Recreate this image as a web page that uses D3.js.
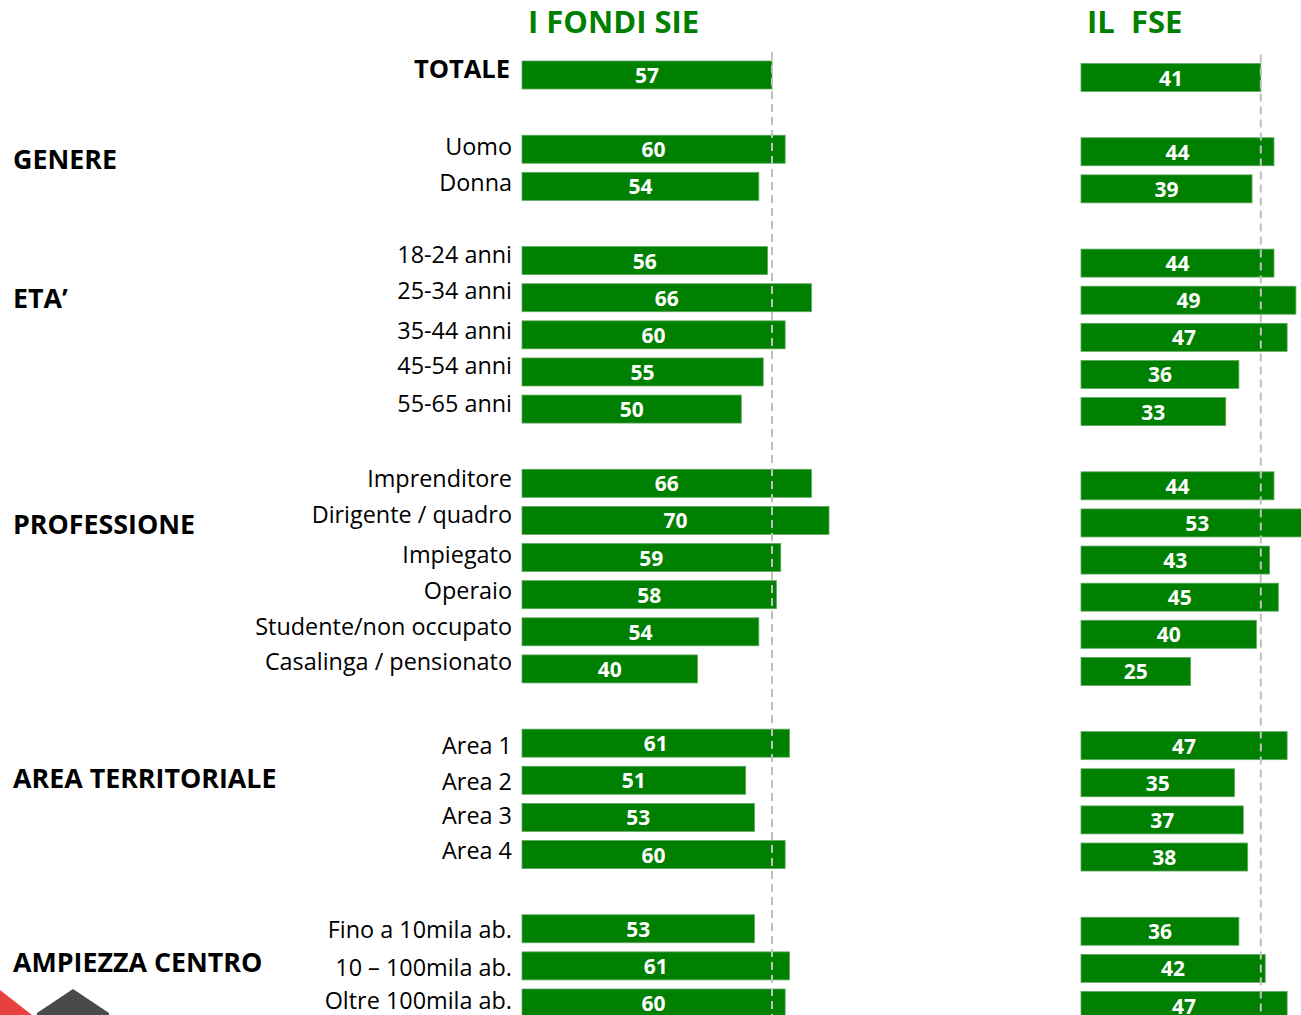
<!DOCTYPE html>
<html>
<head>
<meta charset="utf-8">
<script src="https://cdn.jsdelivr.net/npm/d3@7"></script>
<style>
  html, body { margin: 0; padding: 0; background: #ffffff; }
  svg { display: block; }
  text { white-space: pre; }
</style>
</head>
<body>
<svg id="chart" width="1301" height="1015"></svg>
<script>
// ---------------- DATA ----------------
const panelTitles = ["I FONDI SIE", "IL  FSE"];
const groups = ["", "GENERE", "ETA’", "PROFESSIONE", "AREA TERRITORIALE", "AMPIEZZA CENTRO"];
const categories = [
  "TOTALE",
  "Uomo", "Donna",
  "18-24 anni", "25-34 anni", "35-44 anni", "45-54 anni", "55-65 anni",
  "Imprenditore", "Dirigente / quadro", "Impiegato", "Operaio", "Studente/non occupato", "Casalinga / pensionato",
  "Area 1", "Area 2", "Area 3", "Area 4",
  "Fino a 10mila ab.", "10 – 100mila ab.", "Oltre 100mila ab."
];
const categoryGroup = [0, 1, 1, 2, 2, 2, 2, 2, 3, 3, 3, 3, 3, 3, 4, 4, 4, 4, 5, 5, 5];
const fondiSie = [57, 60, 54, 56, 66, 60, 55, 50, 66, 70, 59, 58, 54, 40, 61, 51, 53, 60, 53, 61, 60];
const fse      = [41, 44, 39, 44, 49, 47, 36, 33, 44, 53, 43, 45, 40, 25, 47, 35, 37, 38, 36, 42, 47];
const series = [fondiSie, fse];

// ---------------- LAYOUT ----------------
const W = 1301, H = 1015;
const GREEN = "#008000";
const FONT = "'Open Sans', 'Noto Sans', sans-serif";
// row index: one empty row between groups
const rowIndex = categories.map((c, i) => i + categoryGroup[i]);
const nRows = rowIndex[rowIndex.length - 1] + 1;
// group label anchoring (in row units, layout only)
const groupLabelRow = [null, 2.27, 6.0, 12.1, 18.95, 23.9];
// per-label vertical nudges of the text boxes (layout only)
const labelNudge = [-7, -3, -4, -6, -7, -4, -6, -6, -5, -6, -3, -4, -5, -7, 2, 1, -2, -4, 1, 2, -3];

const y = d3.scaleLinear().domain([0, nRows - 1]).range([75, 1003]);
const barH = 28;
const panelX = [522, 1081];
const panelDy = [0, 2.5];
const xScales = panelX.map(x0 => d3.scaleLinear().domain([0, 70]).range([x0, x0 + 307]));

const svg = d3.select("#chart");
svg.append("rect").attr("width", W).attr("height", H).attr("fill", "#fff");

// Panel titles
const titleX = [528, 1087];
panelTitles.forEach((t, p) => {
  svg.append("text")
    .attr("x", titleX[p]).attr("y", 33)
    .attr("font-family", FONT).attr("font-weight", 700).attr("font-size", 31)
    .attr("fill", GREEN).text(t);
});

// Category labels
svg.selectAll("text.cat").data(categories).join("text")
  .attr("class", "cat")
  .attr("x", (d, i) => i === 0 ? 510 : 512)
  .attr("y", (d, i) => y(rowIndex[i]) + labelNudge[i] + (i === 0 ? 10 : 8.5))
  .attr("text-anchor", "end")
  .attr("font-family", FONT)
  .attr("font-weight", (d, i) => i === 0 ? 700 : 400)
  .attr("font-size", (d, i) => i === 0 ? 25.5 : 23.4)
  .attr("fill", "#000")
  .text(d => d);

// Group labels
groups.forEach((g, gi) => {
  if (!g) return;
  svg.append("text")
    .attr("x", 13).attr("y", y(groupLabelRow[gi]) + 10)
    .attr("font-family", FONT).attr("font-weight", 700).attr("font-size", 26.8)
    .attr("fill", "#000").text(g);
});

// Bars and values
series.forEach((vals, p) => {
  const x = xScales[p];
  const g = svg.append("g");
  g.selectAll("rect").data(vals).join("rect")
    .attr("x", x(0))
    .attr("y", (d, i) => y(rowIndex[i]) + panelDy[p] - barH / 2)
    .attr("width", d => x(d) - x(0))
    .attr("height", barH)
    .attr("fill", GREEN)
    .attr("stroke", "#5fa85f").attr("stroke-width", 0.8);
  g.selectAll("text").data(vals).join("text")
    .attr("x", d => (x(0) + x(d)) / 2)
    .attr("y", (d, i) => y(rowIndex[i]) + panelDy[p] + 8)
    .attr("text-anchor", "middle")
    .attr("font-family", FONT).attr("font-weight", 700).attr("font-size", 21)
    .attr("fill", "#fff")
    .text(d => d);
  // reference dashed line at total value
  svg.append("line")
    .attr("x1", x(vals[0])).attr("x2", x(vals[0]))
    .attr("y1", 52 + panelDy[p]).attr("y2", H)
    .attr("stroke", "#c0c0c0").attr("stroke-width", 2)
    .attr("stroke-dasharray", "8,5");
});

// Logo fragments bottom-left
svg.append("path").attr("d", "M0,990 L32,1015 L0,1015 Z").attr("fill", "#e8403f");
svg.append("path").attr("d", "M37,1013 L73,989 L109,1013 L109,1015 L37,1015 Z").attr("fill", "#4a4a4a");
</script>
</body>
</html>
